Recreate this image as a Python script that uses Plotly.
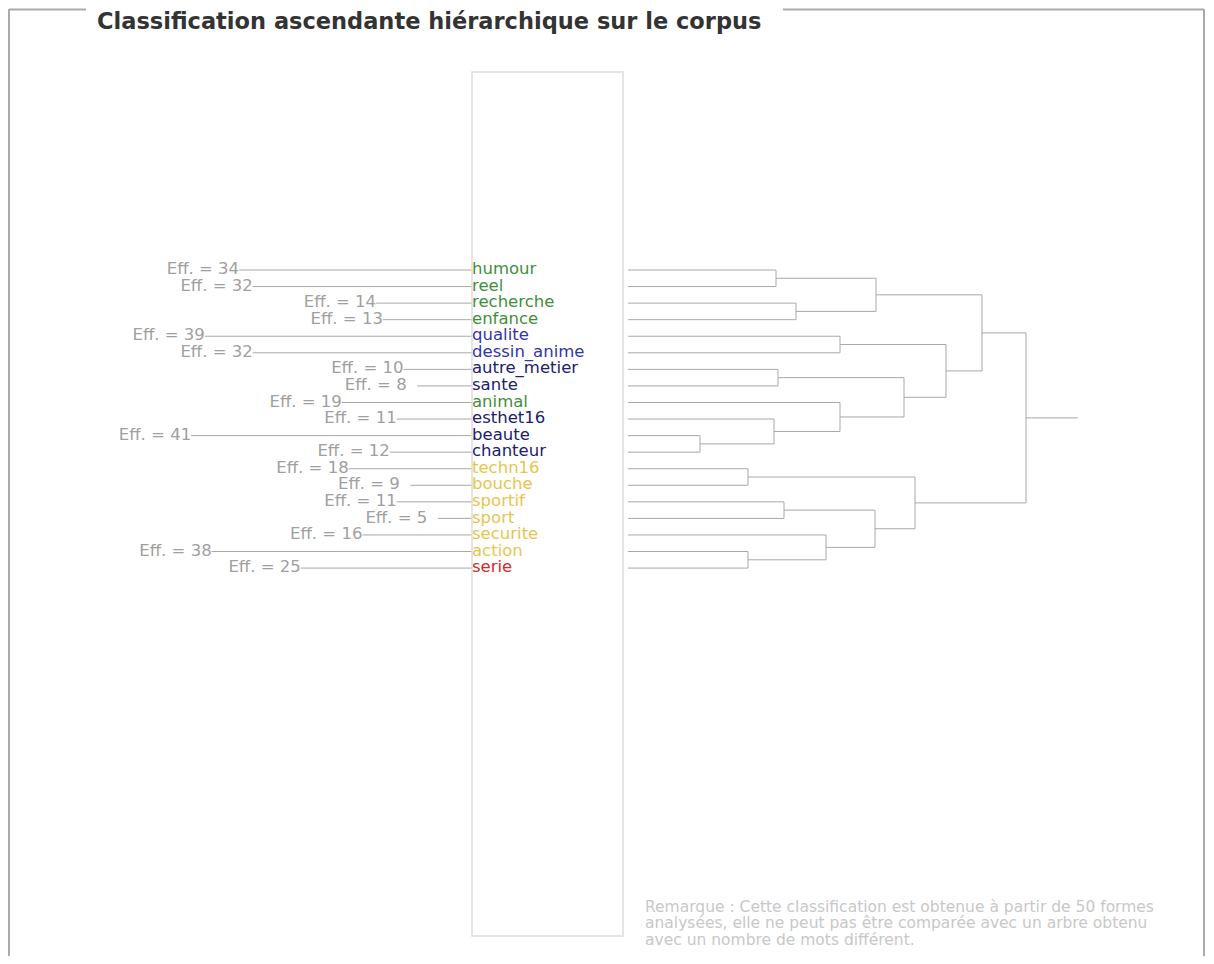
import plotly.graph_objects as go

# leaves, top to bottom
words = ["humour", "reel", "recherche", "enfance", "qualite", "dessin_anime",
         "autre_metier", "sante", "animal", "esthet16", "beaute", "chanteur",
         "techn16", "bouche", "sportif", "sport", "securite", "action", "serie"]
effectifs = [34, 32, 14, 13, 39, 32, 10, 8, 19, 11, 41, 12, 18, 9, 11, 5, 16, 38, 25]
classes = [1, 1, 1, 1, 2, 2, 3, 3, 1, 3, 3, 3, 4, 4, 4, 4, 4, 4, 5]

# merges: (node a, node b, height); leaves are 0..18, new nodes from 19 on
merge_left = [10, 12, 17, 9, 0, 6, 14, 2, 16, 4, 8, 25, 23, 24, 20, 28, 31, 35]
merge_right = [11, 13, 18, 19, 1, 7, 15, 3, 21, 5, 22, 27, 26, 29, 30, 32, 34, 33]
merge_height = [7.2, 12.0, 12.0, 14.6, 14.8, 15.0, 15.6, 16.8, 19.8, 21.2, 21.2,
                24.7, 24.8, 27.6, 28.7, 31.8, 35.4, 39.8]

title = "Classification ascendante hiérarchique sur le corpus"
remark = ["Remarque : Cette classification est obtenue à partir de 50 formes",
          "analysées, elle ne peut pas être comparée avec un arbre obtenu",
          "avec un nombre de mots différent."]

class_colors = {1: "#3f8f3a", 2: "#3434a8", 3: "#20206e", 4: "#e6c54e", 5: "#d42a2a"}

# the page body has an 8px margin, positions below are page pixels
OFF = 8
W, H = 1214 - OFF, 964 - 2 * OFF
FONT = "DejaVu Sans"
LINE = "#a8a8a8"
FRAME = "#aaaaaa"


def px(x):
    return (x - OFF) / W


def py(y):
    return 1 - (y - OFF) / H


# pixel mapping used to set axis ranges
EFF_X0, EFF_PX = 472 - OFF, 6.85
DIST_X0, DIST_PX = 628 - OFF, 10.0
LEAF_Y0, LEAF_STEP = 270 - OFF, 16.56

n = len(words)
leaf_idx = list(range(n))

# effectif lines on the left
ex, ey = [], []
for i, e in enumerate(effectifs):
    ex += [-e, 0, None]
    ey += [i, i, None]
eff_labels = [f"Eff. = {e}" + ("\u2007" if e < 10 else "") for e in effectifs]

# dendrogram segments
node_y = {i: float(i) for i in range(n)}
node_h = {i: 0.0 for i in range(n)}
dx, dy = [], []
for k, (a, b, h) in enumerate(zip(merge_left, merge_right, merge_height)):
    nid = n + k
    dx += [node_h[a], h, h, node_h[b], None]
    dy += [node_y[a], node_y[a], node_y[b], node_y[b], None]
    node_y[nid] = (node_y[a] + node_y[b]) / 2
    node_h[nid] = h
root = n + len(merge_height) - 1
dx += [node_h[root], node_h[root] + 5.2]
dy += [node_y[root], node_y[root]]

fig = go.Figure()
fig.add_trace(go.Scatter(x=ex, y=ey, mode="lines", line=dict(color=LINE, width=1),
                         hoverinfo="skip", xaxis="x", yaxis="y"))
fig.add_trace(go.Scatter(x=[-e for e in effectifs], y=leaf_idx, mode="text",
                         text=eff_labels, textposition="middle left",
                         textfont=dict(family=FONT, size=16.5, color="#a0a0a0"),
                         hoverinfo="skip", xaxis="x", yaxis="y"))
fig.add_trace(go.Scatter(x=[0] * n, y=leaf_idx, mode="text", text=words,
                         textposition="middle right",
                         textfont=dict(family=FONT, size=16.5,
                                       color=[class_colors[c] for c in classes]),
                         hoverinfo="skip", xaxis="x", yaxis="y"))
fig.add_trace(go.Scatter(x=dx, y=dy, mode="lines", line=dict(color=LINE, width=1),
                         hoverinfo="skip", xaxis="x2", yaxis="y"))

shapes = [
    # words box
    dict(type="rect", xref="paper", yref="paper", x0=px(472), x1=px(623),
         y0=py(72), y1=py(936), line=dict(color="#dddddd", width=1.5)),
    # fieldset frame
    dict(type="line", xref="paper", yref="paper", x0=px(9), x1=px(86),
         y0=py(9.5), y1=py(9.5), line=dict(color=FRAME, width=2)),
    dict(type="line", xref="paper", yref="paper", x0=px(783), x1=px(1204),
         y0=py(9.5), y1=py(9.5), line=dict(color=FRAME, width=2)),
    dict(type="line", xref="paper", yref="paper", x0=px(9), x1=px(9),
         y0=py(9), y1=0, line=dict(color=FRAME, width=2)),
    dict(type="line", xref="paper", yref="paper", x0=px(1204), x1=px(1204),
         y0=py(9), y1=0, line=dict(color=FRAME, width=2)),
]

annotations = [dict(text=f"<b>{title}</b>", xref="paper", yref="paper",
                    x=px(95), y=py(21), xanchor="left", yanchor="middle",
                    showarrow=False, font=dict(family=FONT, size=22.5, color="#333333"))]
for j, line in enumerate(remark):
    annotations.append(dict(text=line, xref="paper", yref="paper",
                            x=px(643), y=py(907 + 16.3 * j),
                            xanchor="left", yanchor="middle", showarrow=False,
                            font=dict(family=FONT, size=15.5, color="#c8c8c8")))

fig.update_layout(
    width=W, height=H,
    margin=dict(l=0, r=0, t=0, b=0),
    paper_bgcolor="white", plot_bgcolor="white",
    showlegend=False,
    shapes=shapes,
    annotations=annotations,
    xaxis=dict(range=[-EFF_X0 / EFF_PX, (W - EFF_X0) / EFF_PX], visible=False,
               domain=[0, 1]),
    xaxis2=dict(range=[-DIST_X0 / DIST_PX, (W - DIST_X0) / DIST_PX], visible=False,
                overlaying="x"),
    yaxis=dict(range=[(H - LEAF_Y0) / LEAF_STEP, -LEAF_Y0 / LEAF_STEP], visible=False),
)

fig.write_html("out.html")
